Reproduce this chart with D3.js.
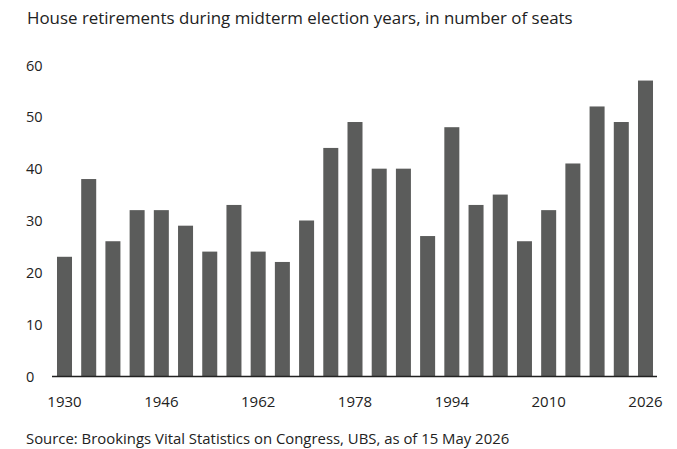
<!DOCTYPE html>
<html>
<head>
<meta charset="utf-8">
<script src="https://cdn.jsdelivr.net/npm/d3@7"></script>
<style>
  body { margin: 0; background: #fff; }
  text { font-family: "Open Sans", "Noto Sans", sans-serif; fill: #222; }
</style>
</head>
<body>
<div id="chart"></div>
<script>
const years = [1930, 1934, 1938, 1942, 1946, 1950, 1954, 1958, 1962, 1966, 1970, 1974, 1978,
               1982, 1986, 1990, 1994, 1998, 2002, 2006, 2010, 2014, 2018, 2022, 2026];
const seats = [23, 38, 26, 32, 32, 29, 24, 33, 24, 22, 30, 44, 49,
               40, 40, 27, 48, 33, 35, 26, 32, 41, 52, 49, 57];
const yTicks = [0, 10, 20, 30, 40, 50, 60];
const xLabels = [1930, 1946, 1962, 1978, 1994, 2010, 2026];
const title = "House retirements during midterm election years, in number of seats";
const source = "Source: Brookings Vital Statistics on Congress, UBS, as of 15 May 2026";

const width = 677;
const height = 449;

const svg = d3.select("#chart").append("svg")
  .attr("width", width)
  .attr("height", height)
  .attr("viewBox", [0, 0, width, height]);

const x = d3.scaleBand()
  .domain(years)
  .range([53, 657])
  .paddingInner(0.38)
  .paddingOuter(0.165);

const y = d3.scaleLinear()
  .domain([0, 60])
  .range([376, 65]);

svg.append("text")
  .attr("x", 27)
  .attr("y", 24)
  .style("font-size", "16.9px")
  .text(title);

// y tick labels, left aligned, no tick lines
svg.append("g")
  .selectAll("text")
  .data(yTicks)
  .join("text")
  .attr("x", 26)
  .attr("y", d => y(d) + 0.5)
  .attr("dy", "0.35em")
  .style("font-size", "14.5px")
  .text(d => d);

svg.append("g")
  .attr("fill", "#5b5c5b")
  .selectAll("rect")
  .data(years)
  .join("rect")
  .attr("x", d => x(d))
  .attr("y", (d, i) => y(seats[i]))
  .attr("width", x.bandwidth())
  .attr("height", (d, i) => y(0) - y(seats[i]));

const xAxis = svg.append("g")
  .attr("transform", `translate(0,${y(0)})`)
  .call(d3.axisBottom(x).tickValues(xLabels).tickSize(0).tickPadding(20));
xAxis.select(".domain")
  .attr("d", "M52,0.5H657")
  .attr("stroke", "#222")
  .attr("stroke-width", 1.5);
xAxis.selectAll("text")
  .style("font-size", "15px")
  .style("font-family", "\"Open Sans\", \"Noto Sans\", sans-serif")
  .attr("fill", "#222");

svg.append("text")
  .attr("x", 26)
  .attr("y", 444)
  .style("font-size", "14.9px")
  .text(source);
</script>
</body>
</html>
